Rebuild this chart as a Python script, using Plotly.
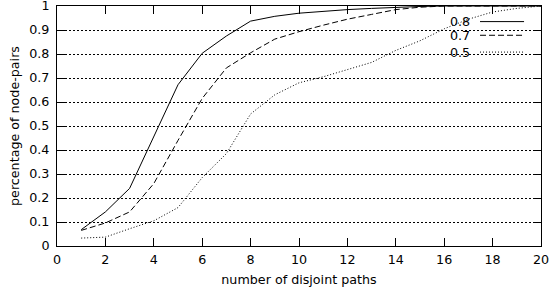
import plotly.graph_objects as go

x_vals = list(range(1, 21))
s08 = [0.068, 0.142, 0.240, 0.455, 0.672, 0.803, 0.875, 0.937, 0.957, 0.970,
       0.978, 0.985, 0.990, 0.995, 0.998, 1.0, 1.0, 1.0, 1.0, 1.0]
s07 = [0.065, 0.096, 0.142, 0.260, 0.440, 0.615, 0.742, 0.805, 0.862, 0.893,
       0.920, 0.945, 0.965, 0.985, 0.995, 1.0, 1.0, 1.0, 1.0, 1.0]
s05 = [0.033, 0.037, 0.072, 0.105, 0.160, 0.285, 0.385, 0.550, 0.630, 0.680,
       0.705, 0.735, 0.765, 0.815, 0.855, 0.905, 0.945, 0.975, 0.990, 1.0]
series_names = ["0.8", "0.7", "0.5"]
x_ticks = list(range(0, 21, 2))
y_ticks = [round(i * 0.1, 1) for i in range(11)]
y_tick_text = ["0"] + [f"{v:.1f}" for v in y_ticks[1:-1]] + ["1"]

FONT = dict(family="DejaVu Sans", size=12.7, color="black")
dashes = ["solid", "6px,3px", "1px,2px"]

fig = go.Figure()
for name, ys, d in zip(series_names, [s08, s07, s05], dashes):
    fig.add_trace(go.Scatter(x=x_vals, y=ys, mode="lines", name=name,
                             line=dict(color="black", width=1, dash=d),
                             showlegend=False))

# key (gnuplot style: label left, sample right)
key_y = [0.935, 0.878, 0.808]
shapes = [dict(type="rect", xref="paper", yref="paper", x0=0.802, x1=0.983,
               y0=0.79, y1=1.0, fillcolor="white", line=dict(width=0),
               layer="between")]
annotations = []
for name, ky, d in zip(series_names, key_y, dashes):
    annotations.append(dict(x=0.858, y=ky, xref="paper", yref="paper",
                            text=name, showarrow=False, xanchor="right",
                            yanchor="middle", font=FONT))
    shapes.append(dict(type="line", xref="paper", yref="paper", x0=0.874,
                       x1=0.965, y0=ky, y1=ky,
                       line=dict(color="black", width=1, dash=d)))

fig.update_layout(
    width=549, height=292,
    margin=dict(l=57, r=8, t=6, b=46, autoexpand=False),
    paper_bgcolor="white", plot_bgcolor="white",
    font=FONT,
    shapes=shapes, annotations=annotations,
    xaxis=dict(range=[0, 20], tickvals=x_ticks, showgrid=False,
               ticks="inside", ticklen=8, tickcolor="black", tickwidth=1,
               showline=True, linecolor="black", linewidth=1, mirror="ticks",
               zeroline=False, ticklabelstandoff=2, ticklabeloverflow="allow",
               automargin=False,
               title=dict(text="number of disjoint paths", font=FONT, standoff=8)),
    yaxis=dict(range=[0, 1], tickvals=y_ticks, ticktext=y_tick_text,
               showgrid=True, gridcolor="black", gridwidth=1, griddash="2px,2px",
               ticks="inside", ticklen=8, tickcolor="black", tickwidth=1,
               showline=True, linecolor="black", linewidth=1, mirror="ticks",
               zeroline=False, ticklabelstandoff=4, ticklabeloverflow="allow",
               automargin=False,
               title=dict(text="percentage of node-pairs", font=FONT, standoff=6)),
)

fig.write_html("out.html")
